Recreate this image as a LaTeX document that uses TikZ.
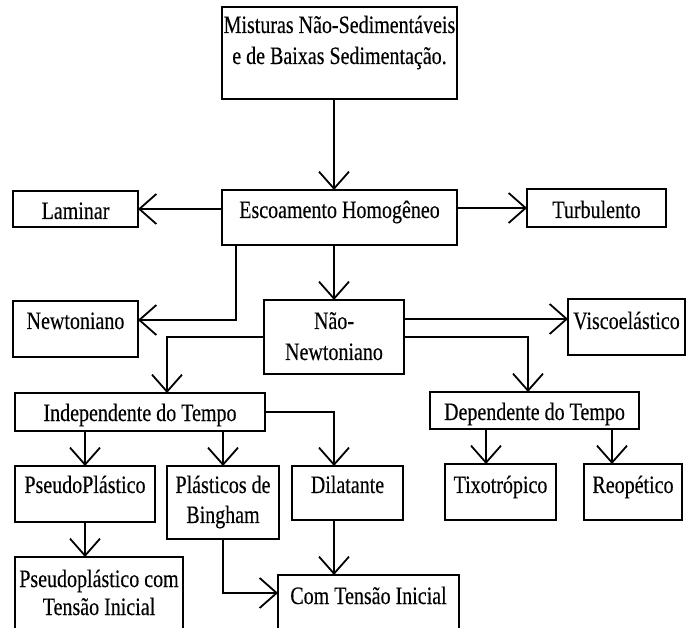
\documentclass[tikz,border=0pt]{standalone}
\usepackage{fontspec}
\newfontfamily\df[FakeStretch=0.8,FakeBold=0.3]{Liberation Serif}
\usetikzlibrary{arrows.meta}
\newcommand{\boxtxt}[4]{\parbox[t][#2][t]{#1}{\centering\rule{0pt}{#3}#4\par}}
\begin{document}
\begin{tikzpicture}[x=1pt,y=-1pt,
  font=\df\fontsize{25}{31}\selectfont,
  box/.style={draw, line width=1.8pt, inner sep=0pt, outer sep=0pt, anchor=north west},
  arr/.style={line width=1.8pt, -{Straight Barb[length=17pt,width=30pt]}}]
\useasboundingbox[fill=white] (0,0) rectangle (686,628);
\clip (0,0) rectangle (686,628);
% boxes
\node[box] (mist)   at (222,7)   {\boxtxt{235pt}{92pt}{26pt}{\mbox{Misturas Não-Sedimentáveis}\\\mbox{e de Baixas Sedimentação.}}};
\node[box] (esc)    at (222,190) {\boxtxt{235pt}{55pt}{28pt}{Escoamento Homogêneo}};
\node[box] (lam)    at (13,191)  {\boxtxt{125pt}{36pt}{28pt}{Laminar}};
\node[box] (turb)   at (527,189) {\boxtxt{139pt}{38pt}{29pt}{Turbulento}};
\node[box] (newt)   at (13,301)  {\boxtxt{125pt}{56pt}{28pt}{Newtoniano}};
\node[box] (nn)     at (264,300) {\boxtxt{140pt}{74pt}{29pt}{Não-\\Newtoniano}};
\node[box] (visc)   at (568,299) {\boxtxt{117pt}{56pt}{30pt}{\mbox{Viscoelástico}}};
\node[box] (indep)  at (15,393)  {\boxtxt{250pt}{38pt}{28pt}{Independente do Tempo}};
\node[box] (dep)    at (430,392) {\boxtxt{209pt}{37pt}{28pt}{Dependente do Tempo}};
\node[box] (pseudo) at (15,466)  {\boxtxt{140pt}{56pt}{27pt}{\mbox{PseudoPlástico}}};
\node[box] (bing)   at (167,466) {\boxtxt{112pt}{73pt}{27pt}{\fontsize{25}{30}\selectfont\mbox{Plásticos de}\\Bingham}};
\node[box] (dil)    at (292,466) {\boxtxt{111pt}{54pt}{27pt}{Dilatante}};
\node[box] (tixo)   at (445,464) {\boxtxt{111pt}{56pt}{29pt}{\mbox{Tixotrópico}}};
\node[box] (reop)   at (584,464) {\boxtxt{98pt}{56pt}{29pt}{\mbox{Reopético}}};
\node[box] (pct)    at (15,557)  {\boxtxt{168pt}{90pt}{30pt}{\fontsize{25}{28}\selectfont\mbox{Pseudoplástico com}\\\mbox{Tensão Inicial}}};
\node[box] (com)    at (278,575) {\boxtxt{181pt}{80pt}{29pt}{\mbox{Com Tensão Inicial}}};
% connectors
\draw[arr] (nn.north |- mist.south) -- (nn.north |- esc.north);
\draw[arr] (esc.west |- lam.east) -- (lam.east);
\draw[arr] (esc.east |- turb.west) -- (turb.west);
\draw[arr] ([xshift=14pt]esc.south west) |- ([yshift=9pt]newt.east);
\draw[arr] (nn.north |- esc.south) -- (nn.north);
\draw[arr] ([yshift=-19pt]nn.north east) -- ([yshift=-19pt]nn.north east -| visc.west);
\draw[arr] ([yshift=-37pt]nn.north west) -| ([xshift=27pt]indep.north);
\draw[arr] ([yshift=-37pt]nn.north east) -| ([xshift=-6.5pt]dep.north);
\draw[arr] (pseudo.north |- indep.south) -- (pseudo.north);
\draw[arr] (bing.north |- indep.south) -- (bing.north);
\draw[arr] (indep.east) -| ([xshift=-13.5pt]dil.north);
\draw[arr] ([xshift=-14.5pt]tixo.north |- dep.south) -- ([xshift=-14.5pt]tixo.north);
\draw[arr] ([xshift=-21pt]reop.north |- dep.south) -- ([xshift=-21pt]reop.north);
\draw[arr] (pseudo.south) -- (pseudo.south |- pct.north);
\draw[arr] (bing.south) |- ([yshift=-18pt]com.north west);
\draw[arr] ([xshift=-13.5pt]dil.south) -- ([xshift=-13.5pt]dil.south |- com.north);
\end{tikzpicture}
\end{document}
